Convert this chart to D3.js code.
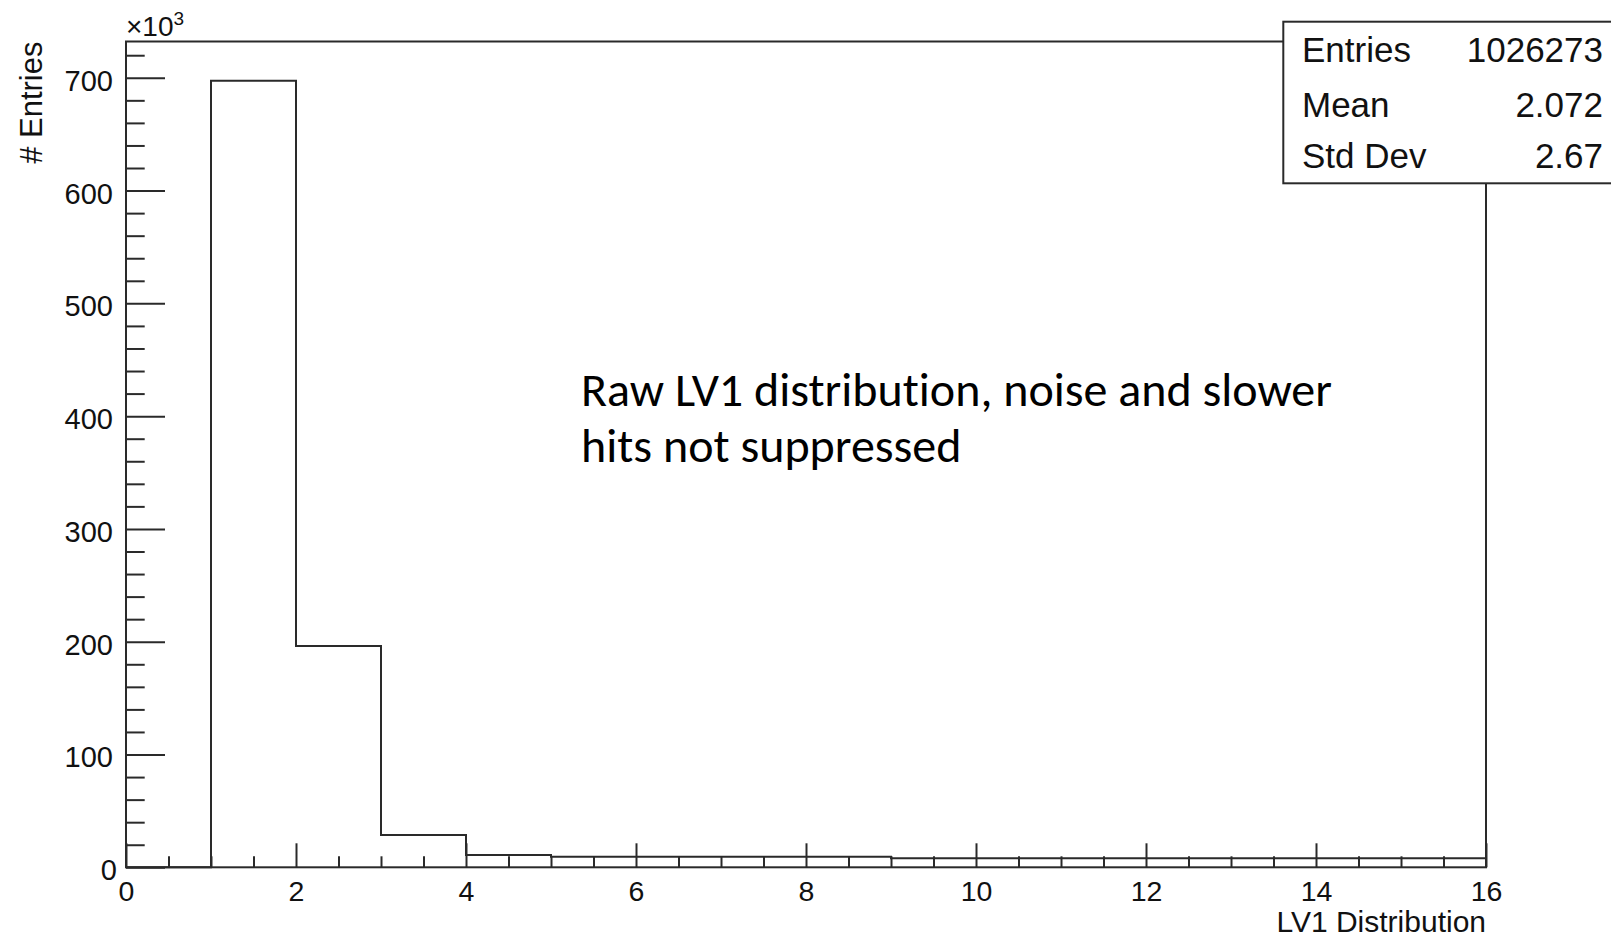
<!DOCTYPE html>
<html>
<head>
<meta charset="utf-8">
<script src="https://cdn.jsdelivr.net/npm/d3@7"></script>
<style>
  html, body { margin: 0; padding: 0; background: #fff; }
  svg { display: block; }
  text { font-variant-ligatures: none; font-feature-settings: "liga" 0, "clig" 0; }
</style>
</head>
<body>
<svg id="chart" width="1611" height="940"></svg>
<script>
// ---- data (counts in units of 10^3) ----
const binLowEdges = [0, 1, 2, 3, 4, 5, 6, 7, 8, 9, 10, 11, 12, 13, 14, 15];
const binCounts   = [0, 697.3, 196.2, 28.6, 11.0, 9.4, 9.4, 9.4, 9.4, 8.0, 8.0, 8.0, 8.0, 8.0, 8.0, 8.0];
const binWidth = 1;
const yMajorTicks = [0, 100, 200, 300, 400, 500, 600, 700];
const xMajorTicks = [0, 2, 4, 6, 8, 10, 12, 14, 16];
const statNames  = ["Entries", "Mean", "Std Dev"];
const statValues = ["1026273", "2.072", "2.67"];
const xTitle = "LV1 Distribution";
const yTitle = "# Entries";
const noteLines = ["Raw LV1 distribution, noise and slower", "hits not suppressed"];

// ---- layout ----
const svg = d3.select("#chart");
const ink = "#2a2a2a";
const rootFont = "'Liberation Sans', Arial, Helvetica, sans-serif";
const pLeft = 126, pRight = 1486, pTop = 41.5, pBottom = 867.3;
const yMax = d3.max(binCounts) * 1.05;

const x = d3.scaleLinear().domain([0, 16]).range([pLeft, pRight]);
const y = d3.scaleLinear().domain([0, yMax]).range([pBottom, pTop]);

svg.append("rect").attr("width", 1611).attr("height", 940).attr("fill", "#fff");

// histogram outline
const pts = [];
pts.push([x(binLowEdges[0]), y(0)]);
binLowEdges.forEach((lo, i) => {
  pts.push([x(lo), y(binCounts[i])]);
  pts.push([x(lo + binWidth), y(binCounts[i])]);
});
pts.push([x(binLowEdges[binLowEdges.length - 1] + binWidth), y(0)]);
svg.append("path")
  .attr("d", d3.line()(pts))
  .attr("fill", "none").attr("stroke", ink).attr("stroke-width", 2);

// y axis minor ticks
const yMinor = d3.range(0, yMax, 20).filter(v => v % 100 !== 0);
const yMinorAxis = svg.append("g").attr("transform", `translate(${pLeft},0)`)
  .call(d3.axisLeft(y).tickValues(yMinor).tickSize(-18.7).tickFormat(""));
yMinorAxis.select(".domain").remove();

// y axis major
const yAxis = svg.append("g").attr("transform", `translate(${pLeft},0)`)
  .call(d3.axisLeft(y).tickValues(yMajorTicks).tickSize(-39).tickPadding(13).tickFormat(d3.format("d")));
yAxis.select(".domain").remove();
yAxis.selectAll("text").attr("dy", "0.43em")
  .attr("font-family", rootFont).attr("font-size", 29).attr("fill", "#111");
yAxis.selectAll("text").filter(d => d === 0).attr("dx", 4);

// x axis minor ticks
const xMinor = d3.range(0, 16.01, 0.5).filter(v => v % 2 !== 0);
const xMinorAxis = svg.append("g").attr("transform", `translate(0,${pBottom})`)
  .call(d3.axisBottom(x).tickValues(xMinor).tickSize(-11).tickFormat(""));
xMinorAxis.select(".domain").remove();

// x axis major
const xAxis = svg.append("g").attr("transform", `translate(0,${pBottom})`)
  .call(d3.axisBottom(x).tickValues(xMajorTicks).tickSize(-24).tickPadding(13.5).tickFormat(d3.format("d")));
xAxis.select(".domain").remove();
xAxis.selectAll("text")
  .attr("font-family", rootFont).attr("font-size", 28.5).attr("fill", "#111");

svg.selectAll(".tick line").attr("stroke", ink).attr("stroke-width", 2);

// frame
svg.append("rect")
  .attr("x", pLeft).attr("y", pTop).attr("width", pRight - pLeft).attr("height", pBottom - pTop)
  .attr("fill", "none").attr("stroke", ink).attr("stroke-width", 2);

// axis titles
svg.append("text")
  .attr("x", pRight).attr("y", 932)
  .attr("text-anchor", "end")
  .attr("font-family", rootFont).attr("font-size", 30).attr("fill", "#111")
  .text(xTitle);

svg.append("text")
  .attr("transform", `translate(42,${pTop}) rotate(-90)`)
  .attr("text-anchor", "end")
  .attr("font-family", rootFont).attr("font-size", 31).attr("fill", "#111")
  .text(yTitle);

// x10^3 multiplier
const mult = svg.append("text")
  .attr("x", pLeft).attr("y", 36)
  .attr("font-family", rootFont).attr("font-size", 28).attr("fill", "#111");
mult.append("tspan").text("×10");
mult.append("tspan").attr("font-size", 19).attr("dy", -11).text("3");

// stats box
const boxX = 1283.3, boxY = 21.7, boxH = 161.6;
svg.append("rect")
  .attr("x", boxX).attr("y", boxY).attr("width", 400).attr("height", boxH)
  .attr("fill", "#fff").attr("stroke", ink).attr("stroke-width", 2);
const statBaselines = [62.3, 116.7, 168.3];
statNames.forEach((n, i) => {
  svg.append("text").attr("x", 1302).attr("y", statBaselines[i])
    .attr("font-family", rootFont).attr("font-size", 35).attr("fill", "#111").text(n);
  svg.append("text").attr("x", 1603).attr("y", statBaselines[i])
    .attr("text-anchor", "end")
    .attr("font-family", rootFont).attr("font-size", 35).attr("fill", "#111").text(statValues[i]);
});

// annotation
const noteFont = "Carlito, Calibri, Lato, 'Open Sans', sans-serif";
const noteG = svg.append("g");
const probe = noteG.append("text").attr("font-family", noteFont).attr("font-size", 100).text(noteLines[0]);
const w100 = probe.node().getComputedTextLength();
probe.remove();
const noteSize = 100 * 751 / w100;
const noteBaselines = [406, 462];
noteLines.forEach((t, i) => {
  noteG.append("text").attr("x", 581).attr("y", noteBaselines[i])
    .attr("font-family", noteFont).attr("font-size", noteSize).attr("fill", "#000").text(t);
});
</script>
</body>
</html>
